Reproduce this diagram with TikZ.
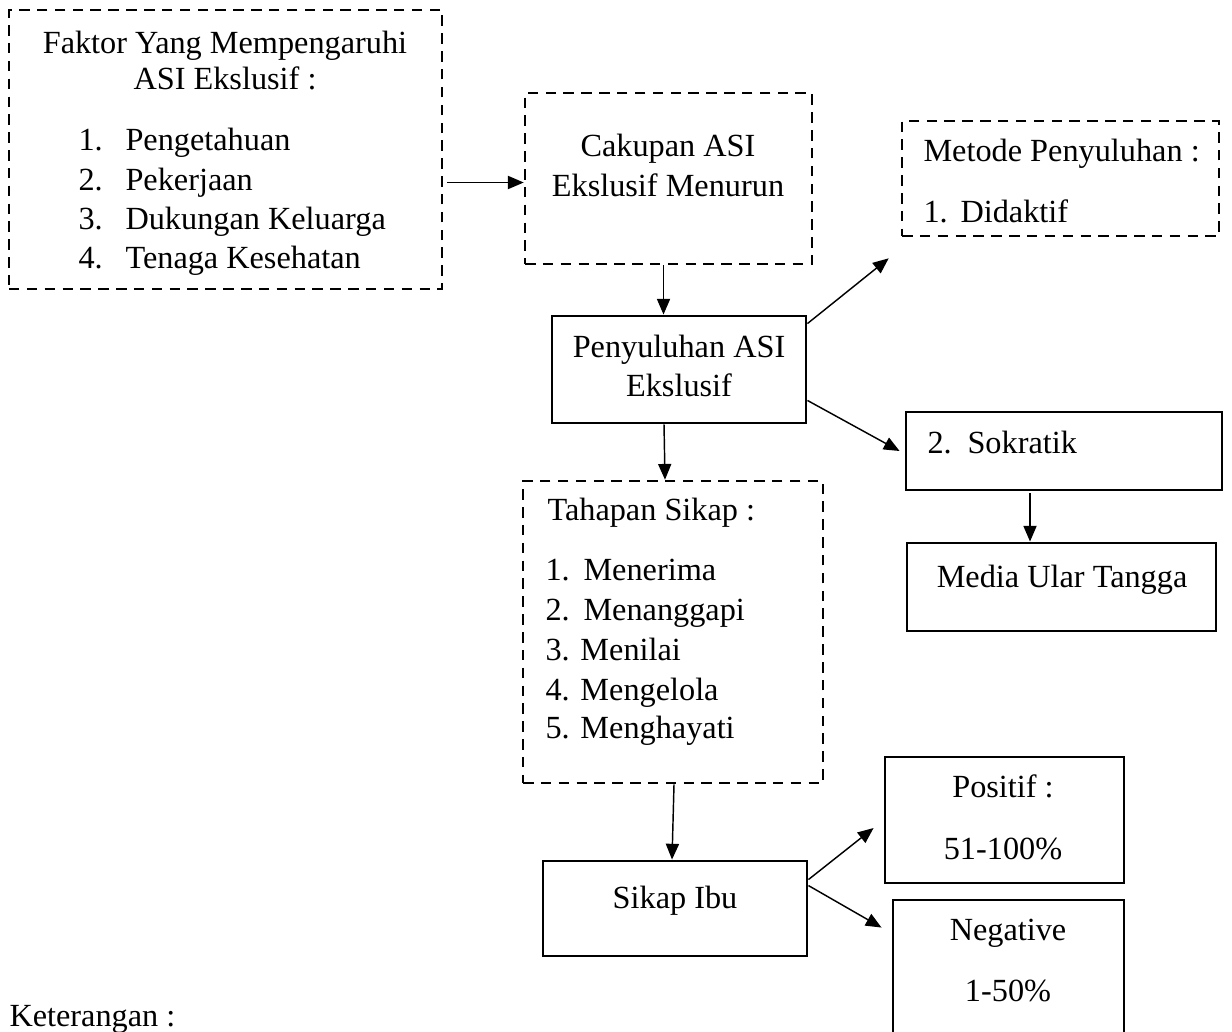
\documentclass[tikz,border=0pt]{standalone}
\usepackage{fontspec}
\setmainfont{Liberation Serif}
\usetikzlibrary{calc,fit,arrows.meta}

\begin{document}
\begin{tikzpicture}[x=0.381pt, y=-0.381pt, >={Triangle[length=6pt,width=5pt]},
  font=\fontsize{12.3}{14}\selectfont,
  dashbox/.style={draw, line width=1pt, dash pattern=on 4pt off 2.8pt, inner sep=0pt},
  solidbox/.style={draw, line width=1.1pt, inner sep=0pt},
  txt/.style={inner sep=0pt, anchor=base},
  txtl/.style={inner sep=0pt, anchor=base west},
  conn/.style={->, line width=0.55pt}]
\useasboundingbox (0,0) rectangle (1232,1031);
\clip (0,0) rectangle (1232,1031);

% boxes
\node[dashbox, fit={(9,10) (442,289)}] (faktor) {};
\node[dashbox, fit={(525,93) (812,264)}] (cakupan) {};
\node[dashbox, fit={(902,121) (1219,236)}] (metode) {};
\node[solidbox, fit={(552,316) (806,423)}] (peny) {};
\node[solidbox, fit={(906,412) (1222,490)}] (sokratik) {};
\node[solidbox, fit={(907,543) (1216,631)}] (media) {};
\node[dashbox, fit={(523,481) (823,783)}] (tahapan) {};
\node[solidbox, fit={(543,861) (807,956)}] (sikap) {};
\node[solidbox, fit={(885,757) (1124,883)}] (positif) {};
\node[solidbox, fit={(893,900) (1124,1045)}] (negatif) {};

% texts
\node[txt] (faktorA) at (225,53) {Faktor Yang Mempengaruhi};
\node[txt] (faktorB) at (225,89) {ASI Ekslusif :};
\foreach \n/\t/\y in {1/Pengetahuan/150, 2/Pekerjaan/190, 3/Dukungan Keluarga/229, 4/Tenaga Kesehatan/268}
  {\node[txtl] (faktorN\n) at (78,\y) {\n.};
   \node[txtl] (faktorI\n) at (125,\y) {\t};}

\node[txt] (cakupanA) at (668,156) {Cakupan ASI};
\node[txt] (cakupanB) at (668,196) {Ekslusif Menurun};

\node[txtl] (metodeA) at (923,161) {Metode Penyuluhan :};
\node[txtl] (metodeN) at (923,222) {1.};
\node[txtl] (metodeI) at (960,222) {Didaktif};

\node[txt] (penyA) at (679,357) {Penyuluhan ASI};
\node[txt] (penyB) at (679,396) {Ekslusif};

\node[txtl] (sokratikN) at (927,453) {2.};
\node[txtl] (sokratikI) at (967,453) {Sokratik};

\node[txt] (mediaA) at (1062,587) {Media Ular Tangga};

\node[txtl] (tahapanA) at (547,520) {Tahapan Sikap :};
\foreach \n/\t/\y in {1/Menerima/580, 2/Menanggapi/620}
  {\node[txtl] (tahapanN\n) at (545,\y) {\n.};
   \node[txtl] (tahapanI\n) at (583,\y) {\t};}
\foreach \n/\t/\y in {3/Menilai/660, 4/Mengelola/700, 5/Menghayati/738}
  {\node[txtl] (tahapanI\n) at (545,\y) {\n. \t};}

\node[txt] (sikapA) at (675,908) {Sikap Ibu};

\node[txt] (positifA) at (1003,797) {Positif :};
\node[txt] (positifB) at (1003,859) {51-100\%};
\node[txt] (negatifA) at (1008,940) {Negative};
\node[txt] (negatifB) at (1008,1001) {1-50\%};

\node[txtl] (keterangan) at (9,1026) {Keterangan :};

% connectors
\draw[conn] ($(faktor.east)+(4,33)$) coordinate (a1) -- (a1 -| cakupan.west);
\draw[conn] ($(cakupan.south)+(-5,0)$) coordinate (a2) -- (a2 |- peny.north);
\draw[conn] ($(peny.north east)+(0,9)$) -- ($(metode.south west)+(-12,21)$);
\draw[conn] ($(peny.south east)+(0,-24)$) -- ($(sokratik.west)+(-5,0)$);
\draw[conn] ($(sokratik.south)+(-34,2)$) coordinate (a5) -- (a5 |- media.north);
\draw[conn] ($(peny.south)+(-15,0)$) -- ($(tahapan.north)+(-8,0)$);
\draw[conn] ($(tahapan.south)+(1,0)$) -- ($(sikap.north)+(-3,0)$);
\draw[conn] ($(sikap.north east)+(0,20)$) -- ($(positif.west)+(-10,8)$);
\draw[conn] ($(sikap.north east)+(0,26)$) -- ($(negatif.north west)+(-10,29)$);
\end{tikzpicture}
\end{document}
